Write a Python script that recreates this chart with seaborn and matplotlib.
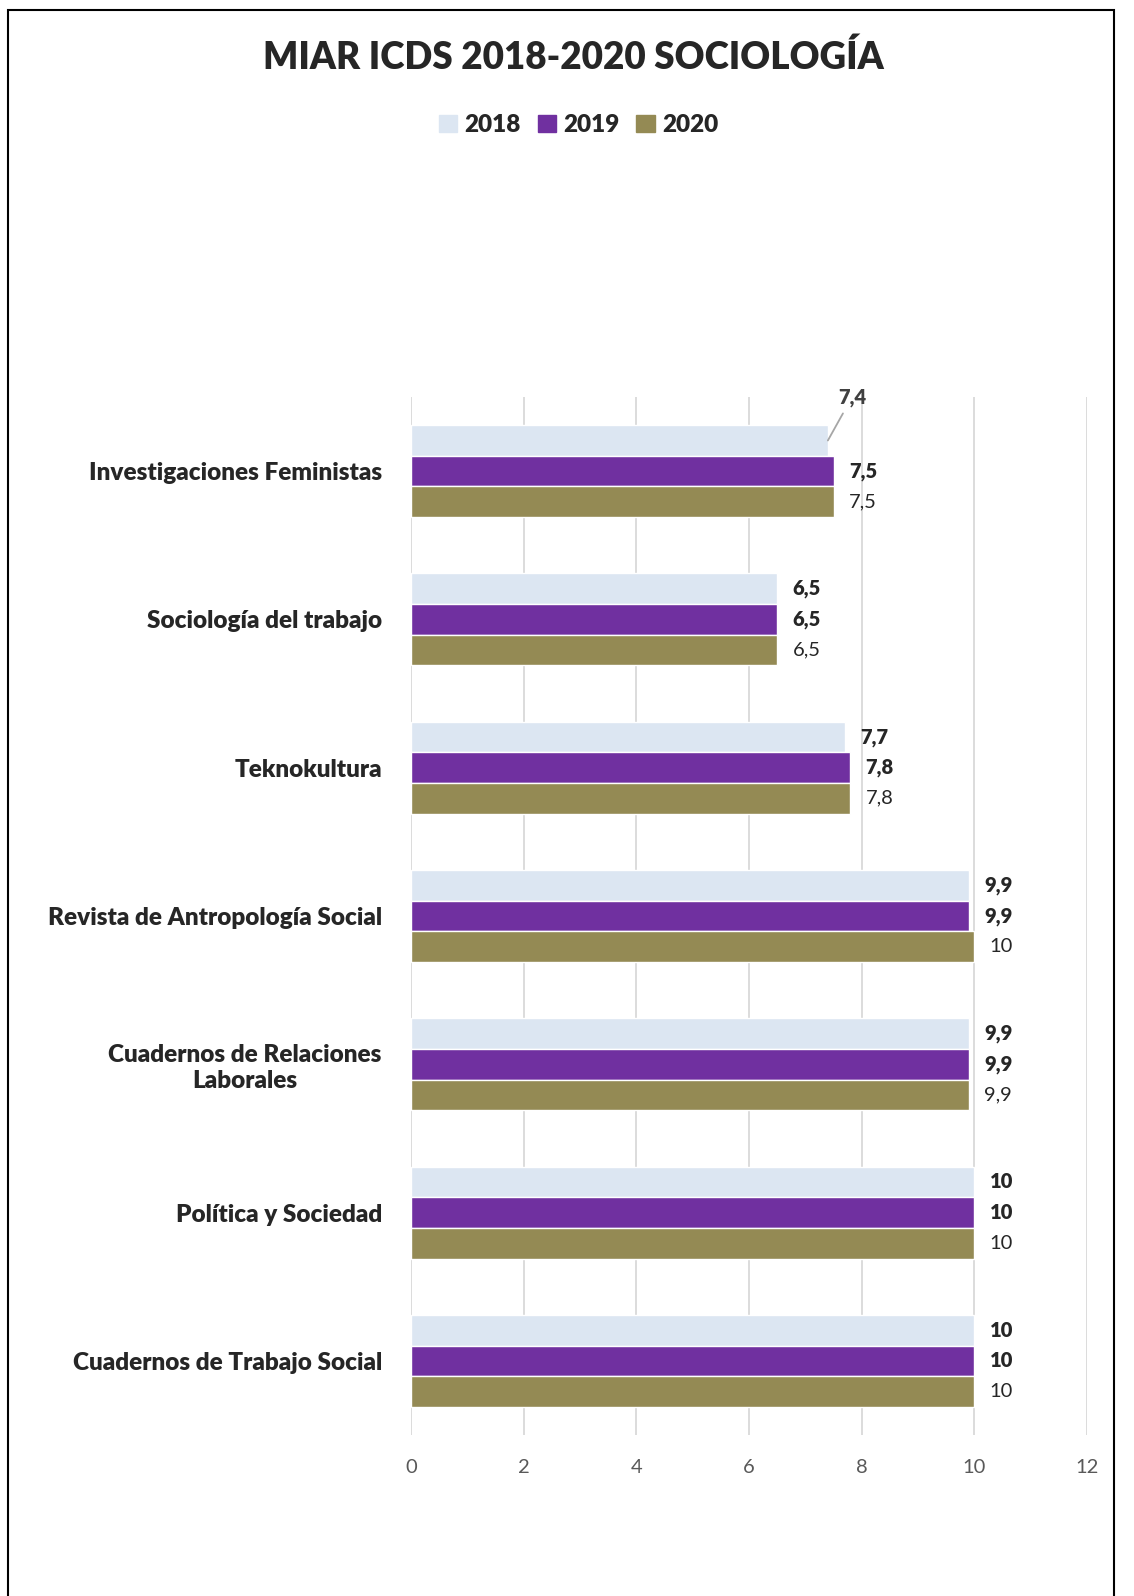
import pandas as pd
import seaborn as sns
import matplotlib.pyplot as plt
from matplotlib.patches import Rectangle

revistas = ['Investigaciones Feministas', 'Sociología del trabajo', 'Teknokultura',
            'Revista de Antropología Social', 'Cuadernos de Relaciones\nLaborales',
            'Política y Sociedad', 'Cuadernos de Trabajo Social']
anios = ['2018', '2019', '2020']
icds_2018 = [7.4, 6.5, 7.7, 9.9, 9.9, 10, 10]
icds_2019 = [7.5, 6.5, 7.8, 9.9, 9.9, 10, 10]
icds_2020 = [7.5, 6.5, 7.8, 10, 9.9, 10, 10]

df = pd.DataFrame({'Revista': revistas * 3,
                   'Año': [a for a in anios for _ in revistas],
                   'ICDS': icds_2018 + icds_2019 + icds_2020})

sns.set_style('white')
plt.rcParams['font.family'] = ['Lato', 'DejaVu Sans']

colores = ['#DCE6F2', '#7030A0', '#948A54']
fig = plt.figure(figsize=(11.34, 15.96), dpi=100)
ax = fig.add_axes([411 / 1134, 1 - 1435 / 1596, (1087 - 411) / 1134, (1435 - 397) / 1596])

sns.barplot(data=df, y='Revista', x='ICDS', hue='Año', hue_order=anios,
            palette=colores, width=0.62, orient='h', ax=ax, legend=False,
            saturation=1, errorbar=None)

ax.set_xlim(0, 12)
ax.set_ylim(6.5, -0.5)
ax.set_xticks(range(0, 13, 2))
ax.grid(axis='x', color='#D9D9D9', linewidth=1.3)
ax.set_axisbelow(True)
for s in ax.spines.values():
    s.set_visible(False)
ax.set_xlabel('')
ax.set_ylabel('')
ax.tick_params(axis='x', labelsize=14.5, labelcolor='#595959', length=0, pad=17)
ax.tick_params(axis='y', length=0, pad=21)
for t in ax.get_yticklabels():
    t.set_fontweight('heavy')
    t.set_fontsize(17.5)
    t.set_multialignment('center')
    t.set_horizontalalignment('right')

# etiquetas de datos
for k, cont in enumerate(ax.containers):
    vals = [icds_2018, icds_2019, icds_2020][k]
    for i, bar in enumerate(cont):
        y = bar.get_y() + bar.get_height() / 2
        txt = f'{vals[i]:g}'.replace('.', ',')
        w = 'heavy' if k < 2 else 'normal'
        if k == 0 and i == 0:
            # etiqueta desplazada con línea guía
            ax.annotate(txt, xy=(vals[i], y), xytext=(7.83, -0.5),
                        ha='center', va='center', fontsize=14.5, fontweight=w,
                        color='#404040',
                        arrowprops=dict(arrowstyle='-', color='#A6A6A6', lw=1.3,
                                        shrinkA=3, shrinkB=0))
        else:
            ax.annotate(txt, xy=(vals[i], y), xytext=(11, 0), textcoords='offset points',
                        ha='left', va='center', fontsize=14.5, fontweight=w, color='#262626')

fig.text(0.506, 1 - 57 / 1596, 'MIAR ICDS 2018-2020 SOCIOLOGÍA', ha='center', va='center',
         fontsize=26.5, fontweight='heavy')
handles = [Rectangle((0, 0), 1, 1, color=c) for c in colores]
fig.legend(handles, anios, loc='center', bbox_to_anchor=(0.51, 1 - 125 / 1596), ncol=3,
           frameon=False, prop={'weight': 'heavy', 'size': 17.5}, handlelength=0.75,
           handleheight=0.75, handletextpad=0.3, columnspacing=0.7)

fig.add_artist(Rectangle((8 / 1134, -0.01), (1114 - 8) / 1134, 1 - 10 / 1596 + 0.01,
                         transform=fig.transFigure, fill=False, edgecolor='black', lw=1.5))

fig.savefig('out.png', dpi=100, facecolor='white')
